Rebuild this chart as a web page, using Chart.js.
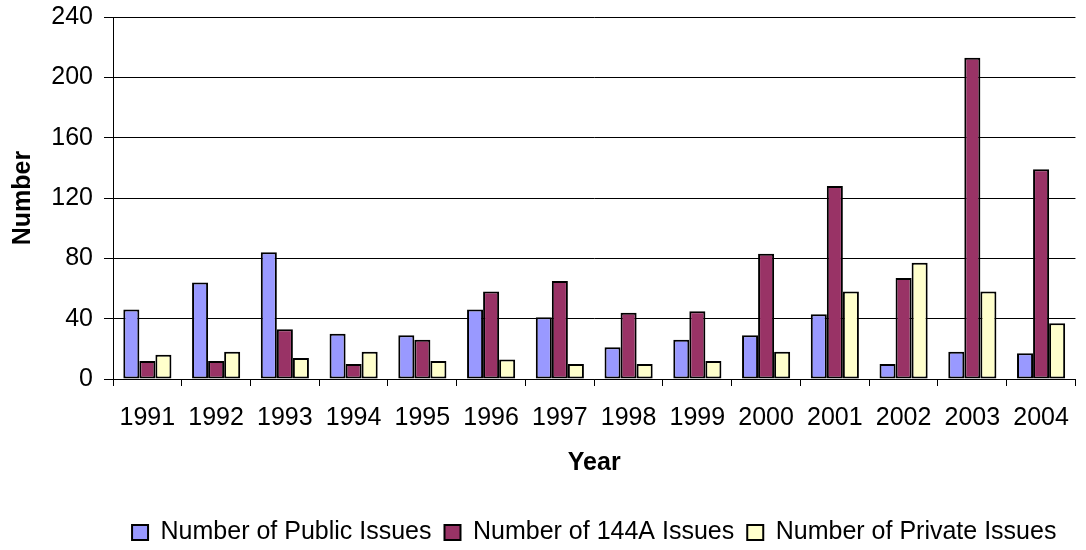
<!DOCTYPE html>
<html>
<head>
<meta charset="utf-8">
<script src="https://cdn.jsdelivr.net/npm/chart.js@4/dist/chart.umd.min.js"></script>
<style>
  html, body { margin: 0; padding: 0; background: #fff; }
  #wrap { width: 1086px; height: 550px; }
</style>
</head>
<body>
<div id="wrap"><canvas id="grafica" width="1086" height="550"></canvas></div>
<script>
const years = ["1991", "1992", "1993", "1994", "1995", "1996", "1997", "1998", "1999", "2000", "2001", "2002", "2003", "2004"];
const publicIssues = [46, 64, 84, 30, 29, 46, 41, 21, 26, 29, 43, 10, 18, 17];
const issues144A = [12, 12, 33, 10, 26, 58, 65, 44, 45, 83, 128, 67, 213, 139];
const privateIssues = [16, 18, 14, 18, 12, 13, 10, 10, 12, 18, 58, 77, 58, 37];
const yTicks = [0, 40, 80, 120, 160, 200, 240];

const fuente = "'Liberation Sans', Arial, sans-serif";

const data = {
    labels: years,
    datasets: [
        {
            label: "Number of Public Issues",
            data: publicIssues,
            backgroundColor: '#9999FF',
            borderColor: '#000000',
            borderWidth: 2,
            borderSkipped: false
        },
        {
            label: "Number of 144A Issues",
            data: issues144A,
            backgroundColor: '#993366',
            borderColor: '#000000',
            borderWidth: 2,
            borderSkipped: false
        },
        {
            label: "Number of Private Issues",
            data: privateIssues,
            backgroundColor: '#FFFFCC',
            borderColor: '#000000',
            borderWidth: 2,
            borderSkipped: false
        }
    ]
};

const config = {
    type: 'bar',
    data: data,
    options: {
        responsive: false,
        animation: false,
        categoryPercentage: 0.7,
        barPercentage: 1.0,
        layout: {padding: {top: 17, right: 3, bottom: -5, left: 0}},
        plugins: {
            tooltip: {enabled: false},
            legend: {
                position: 'bottom',
                fullSize: false,
                labels: {
                    color: '#000',
                    font: {family: fuente, size: 25},
                    boxWidth: 16,
                    boxHeight: 15,
                    padding: 13
                }
            }
        },
        scales: {
            x: {
                afterFit: (s) => { s.height = 128; },
                grid: {
                    display: true,
                    offset: true,
                    drawOnChartArea: false,
                    drawTicks: true,
                    tickLength: 7,
                    color: '#000'
                },
                border: {display: true, color: '#000', width: 1},
                ticks: {
                    color: '#000',
                    font: {family: fuente, size: 25},
                    padding: 17,
                    maxRotation: 0,
                    autoSkip: false
                },
                title: {
                    display: true,
                    text: 'Year',
                    color: '#000',
                    font: {family: fuente, size: 25, weight: 'bold'},
                    padding: {top: 4, bottom: 29}
                }
            },
            y: {
                min: 0,
                max: 240,
                afterFit: (s) => { s.width = 113; s.paddingTop = 0; s.paddingBottom = 0; },
                afterBuildTicks: (s) => { s.ticks = yTicks.map(v => ({value: v})); },
                grid: {
                    color: '#000',
                    lineWidth: 1,
                    drawTicks: true,
                    tickLength: 9
                },
                border: {display: true, color: '#000', width: 1},
                ticks: {
                    color: '#000',
                    font: {family: fuente, size: 25},
                    padding: 11
                },
                title: {
                    display: true,
                    text: 'Number',
                    color: '#000',
                    font: {family: fuente, size: 25, weight: 'bold'},
                    padding: {top: 8, bottom: 4}
                }
            }
        }
    }
};

const ctx = document.getElementById('grafica').getContext('2d');
const graficaIssues = new Chart(ctx, config);
</script>
</body>
</html>
